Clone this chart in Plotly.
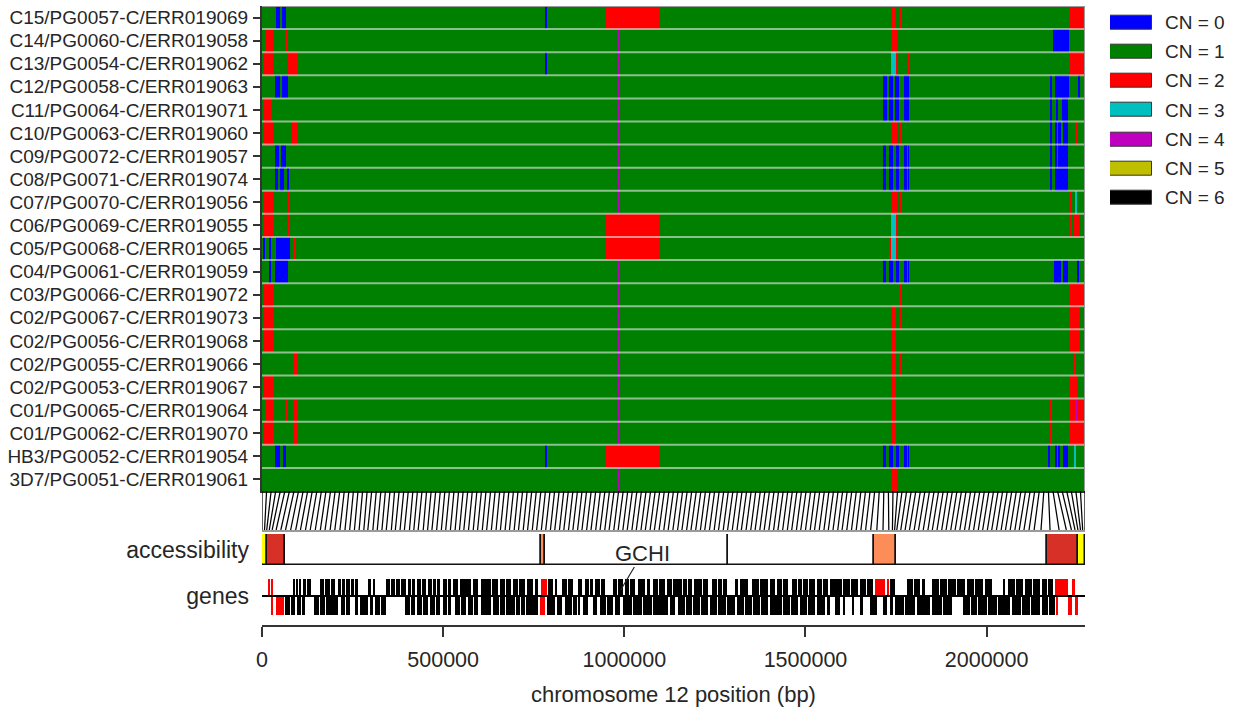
import plotly.graph_objects as go

# ---------------------------------------------------------------- data
CHROM_LEN = 2271494          # chromosome 12 length (bp)
N_WIN = 900                  # number of CNV windows along the chromosome
WINDOW_STEP = 5              # one connector line every WINDOW_STEP windows

CN_LABELS = ["CN = 0", "CN = 1", "CN = 2", "CN = 3", "CN = 4", "CN = 5", "CN = 6"]
CN_COLORS = ["#0000ff", "#008000", "#ff0000", "#00bfbf", "#bf00bf", "#bfbf00", "#000000"]

SAMPLES = [
    "C15/PG0057-C/ERR019069", "C14/PG0060-C/ERR019058", "C13/PG0054-C/ERR019062",
    "C12/PG0058-C/ERR019063", "C11/PG0064-C/ERR019071", "C10/PG0063-C/ERR019060",
    "C09/PG0072-C/ERR019057", "C08/PG0071-C/ERR019074", "C07/PG0070-C/ERR019056",
    "C06/PG0069-C/ERR019055", "C05/PG0068-C/ERR019065", "C04/PG0061-C/ERR019059",
    "C03/PG0066-C/ERR019072", "C02/PG0067-C/ERR019073", "C02/PG0056-C/ERR019068",
    "C02/PG0055-C/ERR019066", "C02/PG0053-C/ERR019067", "C01/PG0065-C/ERR019064",
    "C01/PG0062-C/ERR019070", "HB3/PG0052-C/ERR019054", "3D7/PG0051-C/ERR019061",
]

# copy-number segments per sample: (first window, end window, CN); all other windows CN = 1
SEG_C15 = [(15, 20, 0), (22, 26, 0), (309, 312, 0), (376, 435, 2), (689, 692, 2), (698, 700, 2),
           (884, 898, 2), (898, 900, 4)]
SEG_C14 = [(3, 12, 2), (26, 28, 2), (389, 390, 4), (688, 694, 2), (865, 870, 0), (871, 882, 0)]
SEG_C13 = [(1, 12, 2), (28, 39, 2), (309, 312, 0), (389, 390, 4), (688, 693, 3), (693, 695, 2),
           (706, 708, 2), (884, 900, 2)]
SEG_C12 = [(14, 20, 0), (22, 28, 0), (389, 390, 4), (679, 684, 0), (686, 690, 0), (692, 697, 0),
           (702, 708, 0), (862, 864, 0), (867, 882, 0), (892, 894, 0)]
SEG_C11 = [(1, 11, 2), (389, 390, 4), (679, 684, 0), (686, 690, 0), (692, 697, 0), (702, 708, 0),
           (862, 864, 0), (868, 871, 0), (875, 881, 0)]
SEG_C10 = [(1, 12, 2), (33, 39, 2), (389, 390, 4), (688, 694, 2), (698, 700, 2), (862, 864, 0),
           (867, 869, 0), (870, 874, 0), (876, 881, 0), (889, 891, 2)]
SEG_C09 = [(14, 19, 0), (21, 26, 0), (389, 390, 4), (679, 682, 0), (686, 690, 0), (693, 697, 0),
           (702, 705, 0), (706, 708, 0), (862, 864, 0), (867, 869, 0), (870, 881, 0)]
SEG_C08 = [(14, 18, 0), (20, 24, 0), (27, 29, 0), (389, 390, 4), (679, 682, 0), (686, 690, 0),
           (693, 697, 0), (702, 705, 0), (706, 708, 0), (862, 864, 0), (867, 881, 0), (898, 900, 2)]
SEG_C07 = [(2, 12, 2), (27, 29, 2), (389, 390, 4), (688, 694, 2), (698, 700, 2), (884, 886, 2),
           (889, 891, 3), (898, 900, 2)]
SEG_C06 = [(2, 13, 2), (27, 29, 2), (376, 435, 2), (688, 693, 3), (693, 695, 2), (884, 886, 2),
           (888, 893, 2), (898, 900, 2)]
SEG_C05 = [(1, 3, 0), (8, 10, 0), (15, 31, 0), (34, 36, 2), (376, 435, 2), (686, 688, 2),
           (688, 693, 3), (693, 695, 2)]
SEG_C04 = [(8, 10, 0), (14, 28, 0), (389, 390, 4), (679, 682, 0), (686, 690, 0), (693, 697, 0),
           (702, 705, 0), (706, 708, 0), (866, 874, 0), (876, 881, 0), (891, 893, 0)]
SEG_C03 = [(1, 13, 2), (389, 390, 4), (698, 700, 2), (884, 900, 2)]
SEG_C02_0067 = [(1, 13, 2), (389, 390, 4), (688, 693, 2), (698, 700, 2), (884, 893, 2), (898, 900, 2)]
SEG_C02_0056 = [(1, 13, 2), (389, 390, 4), (688, 692, 2), (884, 893, 2), (898, 900, 2)]
SEG_C02_0055 = [(5, 7, 2), (34, 39, 2), (389, 390, 4), (688, 693, 2), (697, 699, 2), (888, 890, 2),
                (898, 900, 2)]
SEG_C02_0053 = [(1, 13, 2), (389, 390, 4), (688, 693, 2), (884, 891, 2), (898, 900, 2)]
SEG_C01_0065 = [(3, 13, 2), (26, 28, 2), (34, 39, 2), (389, 390, 4), (688, 693, 2), (862, 864, 2),
                (884, 900, 2), (889, 891, 4)]
SEG_C01_0062 = [(1, 13, 2), (34, 39, 2), (389, 390, 4), (688, 693, 2), (862, 864, 2), (884, 898, 2),
                (898, 900, 4)]
SEG_HB3 = [(5, 7, 2), (14, 20, 0), (23, 26, 0), (309, 312, 0), (376, 435, 2), (679, 682, 0),
           (686, 690, 0), (693, 697, 0), (702, 705, 0), (706, 708, 0), (859, 862, 0), (867, 869, 0),
           (871, 873, 0), (876, 881, 0), (888, 890, 3), (898, 900, 2)]
SEG_3D7 = [(389, 390, 4), (688, 694, 2)]

SEGMENTS = [SEG_C15, SEG_C14, SEG_C13, SEG_C12, SEG_C11, SEG_C10, SEG_C09, SEG_C08, SEG_C07,
            SEG_C06, SEG_C05, SEG_C04, SEG_C03, SEG_C02_0067, SEG_C02_0056, SEG_C02_0055,
            SEG_C02_0053, SEG_C01_0065, SEG_C01_0062, SEG_HB3, SEG_3D7]

# genomic start (kb) of every WINDOW_STEP-th window
WINDOW_POS_KB = [
    0, 7, 13, 20, 28, 39, 52, 65, 79, 93, 106, 120, 133, 147, 161, 174, 188, 201, 215, 229, 242,
    255, 268, 281, 292, 306, 318, 331, 343, 357, 368, 381, 393, 407, 419, 431, 445, 457, 469, 482, 495,
    507, 520, 533, 545, 557, 570, 583, 595, 608, 620, 633, 646, 658, 671, 683, 696, 708, 721, 733, 746,
    758, 771, 783, 796, 808, 821, 833, 846, 858, 871, 883, 896, 908, 921, 933, 946, 958, 971, 983, 996,
    1008, 1021, 1033, 1046, 1058, 1071, 1083, 1096, 1109, 1121, 1134, 1147, 1159, 1172, 1184,
    1197, 1210, 1222, 1235, 1248, 1260, 1273, 1285, 1298, 1311, 1323, 1336, 1349, 1361, 1374, 1386,
    1399, 1412, 1424, 1437, 1450, 1462, 1475, 1487, 1500, 1513, 1525, 1538, 1551, 1563, 1576, 1589,
    1601, 1614, 1627, 1640, 1653, 1666, 1680,
    1697, 1714, 1730, 1740, 1746, 1752,
    1763, 1775, 1787, 1800, 1812, 1825, 1838, 1850, 1863, 1876, 1888, 1901, 1913, 1926, 1939, 1951,
    1964, 1977, 1989, 2002, 2014, 2027, 2040, 2052, 2065, 2078, 2090, 2103, 2117, 2131, 2150,
    2175, 2200, 2220, 2234, 2244, 2252, 2259, 2265, 2271.494,
]

# accessibility classes along the chromosome (kb)
ACC_START_KB = [0, 14, 63.5, 770, 781, 1285, 1689, 1748.5, 2166, 2252]
ACC_END_KB = [14, 63.5, 770, 781, 1285, 1689, 1748.5, 2166, 2252, 2271.494]
ACC_COLOR = ["#ffff00", "#d73027", "#ffffff", "#fc8d59", "#ffffff", "#ffffff", "#fc8d59",
             "#ffffff", "#d73027", "#ffff00"]

# genes (kb): forward strand above the line, reverse strand below; var-type genes in red
FWD_GENES_KB = [
    (85.6, 91.1), (93.8, 99.4), (102.1, 107.6), (113.2, 122.0), (124.5, 135.2),
    (160.1, 171.0), (173.0, 187.7), (190.4, 201.5), (209.8, 218.0), (220.5, 229.1), (231.8, 242.9),
    (245.6, 254.0), (256.5, 265.0), (292.6, 300.8), (306.4, 311.9), (342.2, 353.3), (356.0, 368.0),
    (370.5, 381.0), (383.5, 397.4), (403.0, 412.0), (414.5, 422.3), (427.8, 439.0), (441.5, 452.6),
    (458.2, 470.0), (472.5, 481.0), (483.5, 491.3), (499.6, 510.0), (512.5, 521.6), (527.2, 541.0),
    (546.5, 559.0), (561.5, 576.8), (582.4, 596.2), (604.4, 617.0), (619.5, 633.0), (635.5, 651.4),
    (656.9, 670.0), (672.5, 687.2), (692.8, 707.0), (709.5, 725.9), (731.4, 748.0), (753.5, 761.8),
    (789.4, 803.2), (808.7, 814.2), (828.0, 841.8), (844.6, 858.4), (872.2, 883.2), (891.5, 902.0),
    (904.5, 913.6), (919.1, 932.0), (934.5, 946.7), (968.8, 981.0), (983.5, 996.4), (1001.9, 1014.0),
    (1016.5, 1029.5), (1037.8, 1057.1), (1062.6, 1070.9), (1079.2, 1094.0), (1096.5, 1112.3),
    (1117.8, 1131.6), (1134.4, 1159.2), (1162.0, 1174.0), (1176.5, 1186.8), (1192.3, 1214.4),
    (1217.2, 1231.0), (1242.0, 1255.0), (1257.5, 1269.6), (1272.4, 1283.4), (1305.5, 1313.8),
    (1319.3, 1341.4), (1352.4, 1372.0), (1374.5, 1396.6), (1402.1, 1415.9), (1421.4, 1435.0),
    (1437.5, 1451.8), (1462.8, 1476.0), (1478.5, 1490.4), (1493.2, 1507.0), (1509.8, 1526.3),
    (1531.8, 1545.0), (1547.5, 1562.2), (1567.7, 1583.0), (1585.5, 1600.8), (1603.6, 1622.0),
    (1624.5, 1645.0), (1650.5, 1667.0), (1669.5, 1686.4), (1733.3, 1747.1), (1780.2, 1797.0),
    (1799.5, 1816.1), (1821.6, 1829.9), (1849.2, 1868.0), (1870.5, 1890.6), (1893.4, 1915.0),
    (1917.5, 1940.3), (1945.8, 1966.0), (1968.5, 1990.0), (1995.5, 2014.8), (2045.2, 2050.7),
    (2059.0, 2078.0), (2080.5, 2100.4), (2105.9, 2125.0), (2127.5, 2147.3), (2152.8, 2167.0),
    (2169.5, 2183.2),
]
FWD_VAR_KB = [(16.6, 22.1), (24.8, 30.4), (770.0, 787.0), (1691.9, 1719.5), (1725.0, 1730.5),
              (2188.7, 2224.6), (2235.6, 2243.9)]
REV_GENES_KB = [
    (63.5, 78.0), (80.5, 91.1), (96.6, 107.0), (109.5, 118.7), (143.5, 157.0), (159.5, 173.9),
    (176.6, 192.0), (194.5, 209.8), (218.0, 229.0), (231.5, 242.9), (256.7, 265.0), (270.5, 292.6),
    (298.1, 306.4), (311.9, 326.0), (328.5, 342.2), (394.7, 408.0), (410.5, 422.3), (427.8, 442.0),
    (444.5, 458.2), (463.7, 477.0), (479.5, 491.3), (499.6, 510.0), (512.5, 521.6), (532.7, 547.0),
    (549.5, 563.0), (568.6, 582.0), (584.5, 596.2), (604.4, 617.0), (619.5, 632.0), (637.6, 653.0),
    (655.5, 670.7), (673.4, 698.3), (701.0, 712.0), (714.5, 725.9), (728.6, 744.0), (746.5, 761.8),
    (786.6, 808.7), (814.2, 828.0), (836.3, 855.6), (858.4, 869.4), (872.2, 877.7), (886.0, 899.8),
    (913.6, 924.6), (932.9, 950.0), (952.5, 968.8), (974.3, 988.1), (996.4, 1022.0), (1024.5, 1048.8),
    (1051.6, 1076.4), (1079.2, 1100.0), (1102.5, 1120.6), (1126.1, 1139.9), (1148.2, 1167.0),
    (1169.5, 1186.8), (1189.6, 1210.0), (1212.5, 1231.0), (1236.5, 1255.8), (1258.6, 1281.0),
    (1283.5, 1305.5), (1311.0, 1331.0), (1333.5, 1352.4), (1355.2, 1375.0), (1377.5, 1396.6),
    (1402.1, 1435.2), (1438.0, 1458.0), (1460.5, 1479.4), (1484.9, 1505.0), (1507.5, 1526.3),
    (1531.8, 1553.9), (1559.4, 1567.7), (1581.5, 1595.3), (1603.6, 1609.1), (1628.4, 1631.2),
    (1650.5, 1658.8), (1678.1, 1697.4), (1714.0, 1725.0), (1733.3, 1741.6), (1747.1, 1773.0),
    (1775.5, 1802.3), (1807.8, 1843.7), (1849.2, 1876.0), (1878.5, 1904.4), (1934.8, 1953.0),
    (1955.5, 1973.4), (1976.2, 2001.0), (2003.5, 2028.6), (2031.4, 2064.5), (2070.0, 2095.0),
    (2097.5, 2120.0), (2122.5, 2147.3), (2152.8, 2170.0), (2172.5, 2188.7),
]
REV_VAR_KB = [(24.8, 30.4), (38.6, 60.7), (767.3, 781.1), (2191.4, 2197.0), (2224.6, 2235.6),
              (2243.9, 2252.2)]

GCH1_KB = 990.0
GCH1_LABEL = "GCHI"

X_TICKS = [0, 500000, 1000000, 1500000, 2000000]

# ---------------------------------------------------------------- layout helpers
W, H = 1244, 716
FONT = "Liberation Sans, Arial, sans-serif"
TEXT = "#262626"


def xdom(a, b):
    return [a / W, b / W]


def ydom(top, bottom):
    return [1 - bottom / H, 1 - top / H]


X_PANEL = xdom(262, 1085)

fig = go.Figure()

# ---------------------------------------------------------------- CN heatmap
z = []
for segs in SEGMENTS:
    row = [1] * N_WIN
    for s, e, cn in segs:
        row[s:e] = [cn] * (e - s)
    z.append(row)

colorscale = []
for k, c in enumerate(CN_COLORS):
    colorscale += [[k / len(CN_COLORS), c], [(k + 1) / len(CN_COLORS), c]]

fig.add_trace(go.Heatmap(z=z, x0=0.5, dx=1, y0=0, dy=1, colorscale=colorscale,
                         zmin=-0.5, zmax=len(CN_COLORS) - 0.5, showscale=False,
                         hoverinfo="skip", xaxis="x", yaxis="y"))

# light separators between samples
sx, sy = [], []
for r in range(len(SAMPLES) - 1):
    sx += [0, N_WIN, None]
    sy += [r + 0.5, r + 0.5, None]
fig.add_trace(go.Scatter(x=sx, y=sy, mode="lines", line=dict(color="rgba(235,235,235,0.6)", width=2),
                         hoverinfo="skip", xaxis="x", yaxis="y"))
# light frame on top and right
fig.add_trace(go.Scatter(x=[0, N_WIN, N_WIN], y=[-0.5, -0.5, len(SAMPLES) - 0.5], mode="lines",
                         line=dict(color="#9a9a9a", width=2), hoverinfo="skip",
                         xaxis="x", yaxis="y"))

# ---------------------------------------------------------------- window -> genome connectors
zx, zy = [], []
for k, pos_kb in enumerate(WINDOW_POS_KB):
    top_bp = k * WINDOW_STEP * CHROM_LEN / N_WIN
    zx += [top_bp, pos_kb * 1000, None]
    zy += [1, 0, None]
fig.add_trace(go.Scatter(x=zx, y=zy, mode="lines", line=dict(color="black", width=1.25),
                         hoverinfo="skip", xaxis="x2", yaxis="y2"))

# ---------------------------------------------------------------- accessibility
fig.add_trace(go.Bar(
    y=[0] * len(ACC_START_KB),
    x=[(e - s) * 1000 for s, e in zip(ACC_START_KB, ACC_END_KB)],
    base=[s * 1000 for s in ACC_START_KB],
    orientation="h", width=1,
    marker=dict(color=ACC_COLOR, line=dict(color="#111111", width=1.5)),
    hoverinfo="skip", xaxis="x3", yaxis="y3"))

# ---------------------------------------------------------------- genes


def gene_bars(genes, height, color):
    return go.Bar(
        x=[(s + e) / 2 * 1000 for s, e in genes],
        y=[height] * len(genes),
        width=[(e - s) * 1000 for s, e in genes],
        base=0, marker=dict(color=color, line=dict(width=0)),
        hoverinfo="skip", xaxis="x4", yaxis="y4")


fig.add_trace(gene_bars(FWD_GENES_KB, 1.0, "black"))
fig.add_trace(gene_bars(REV_GENES_KB, -1.1, "black"))
fig.add_trace(gene_bars(FWD_VAR_KB, 1.0, "#ff0000"))
fig.add_trace(gene_bars(REV_VAR_KB, -1.1, "#ff0000"))
fig.add_trace(go.Scatter(x=[0, CHROM_LEN], y=[0, 0], mode="lines",
                         line=dict(color="black", width=2), hoverinfo="skip",
                         xaxis="x4", yaxis="y4"))

fig.add_annotation(x=GCH1_KB * 1000, y=0.35, xref="x4", yref="y4", text=GCH1_LABEL,
                   showarrow=True, arrowhead=0, arrowwidth=1.2, arrowcolor=TEXT,
                   ax=22, ay=-37, font=dict(size=22, color=TEXT, family=FONT))

# ---------------------------------------------------------------- CN key
fig.add_trace(go.Bar(y=CN_LABELS, x=[1] * len(CN_LABELS), orientation="h", width=0.48,
                     marker=dict(color=CN_COLORS, line=dict(color="#333333", width=1)),
                     hoverinfo="skip", xaxis="x5", yaxis="y5"))

# ---------------------------------------------------------------- axes
hidden = dict(visible=False, showgrid=False, zeroline=False, automargin=False)
fig.update_layout(
    width=W, height=H, margin=dict(l=0, r=0, t=0, b=0, autoexpand=False),
    paper_bgcolor="white", plot_bgcolor="white", showlegend=False,
    barmode="overlay", bargap=0,
    font=dict(family=FONT, color=TEXT),
    xaxis=dict(domain=X_PANEL, anchor="y", range=[0, N_WIN], showticklabels=False, ticks="",
               showline=True, linecolor="#333333", linewidth=2, showgrid=False, zeroline=False,
               automargin=False),
    yaxis=dict(domain=ydom(6, 491), anchor="x", range=[len(SAMPLES) - 0.5, -0.5],
               tickvals=list(range(len(SAMPLES))), ticktext=SAMPLES, ticks="outside",
               ticklen=7, tickwidth=1.5, tickcolor="#333333", showline=True,
               linecolor="#333333", linewidth=2, showgrid=False, zeroline=False,
               ticklabelstandoff=1, automargin=False,
               tickfont=dict(size=19, color=TEXT)),
    xaxis2=dict(domain=X_PANEL, anchor="y2", range=[0, CHROM_LEN], showticklabels=False,
                ticks="", showline=True, linecolor="#9a9a9a", linewidth=1.5,
                showgrid=False, zeroline=False, automargin=False),
    yaxis2=dict(domain=ydom(491, 530), anchor="x2", range=[0, 1], **hidden),
    xaxis3=dict(domain=X_PANEL, anchor="y3", range=[0, CHROM_LEN], **hidden),
    yaxis3=dict(domain=ydom(534, 565), anchor="x3", range=[-0.5, 0.5], tickvals=[0],
                ticktext=["accessibility"], ticks="", showline=False, showgrid=False,
                zeroline=False, ticklabelstandoff=12, automargin=False,
                tickfont=dict(size=23, color=TEXT)),
    xaxis4=dict(domain=X_PANEL, anchor="y4", range=[0, CHROM_LEN], tickvals=X_TICKS,
                ticktext=[str(t) for t in X_TICKS], ticks="outside", ticklen=10,
                tickwidth=1.5, tickcolor="#333333", showline=True, linecolor="#333333",
                linewidth=1.5, showgrid=False, zeroline=False, ticklabelstandoff=4,
                automargin=False, tickfont=dict(size=21.5, color=TEXT),
                title=dict(text="chromosome 12 position (bp)", font=dict(size=22, color=TEXT),
                           standoff=16)),
    yaxis4=dict(domain=ydom(575, 625), anchor="x4", range=[-1.706, 1.235], tickvals=[0],
                ticktext=["genes"], ticks="", showline=False, showgrid=False, zeroline=False,
                ticklabelstandoff=12, automargin=False,
                tickfont=dict(size=23, color=TEXT)),
    xaxis5=dict(domain=xdom(1110, 1152), anchor="y5", range=[0, 1], **hidden),
    yaxis5=dict(domain=ydom(7.7, 212.3), anchor="x5", side="right",
                range=[len(CN_LABELS) - 0.5, -0.5], ticks="", showline=False,
                showgrid=False, zeroline=False, ticklabelstandoff=12, automargin=False,
                tickfont=dict(size=19, color=TEXT)),
)

fig.write_html("out.html")
